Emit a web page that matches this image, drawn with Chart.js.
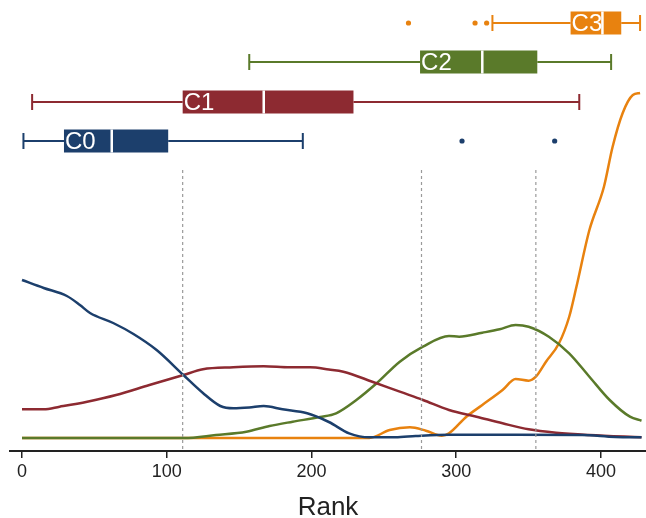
<!DOCTYPE html>
<html>
<head>
<meta charset="utf-8">
<script src="https://cdn.jsdelivr.net/npm/chart.js@4.4.1/dist/chart.umd.min.js"></script>
<style>
    html, body { margin: 0; padding: 0; background: #fff; }
</style>
</head>
<body>
<canvas id="rank-chart" width="646" height="518"></canvas>
<script>
// Classes and colours
const classNames = ["C0", "C1", "C2", "C3"];
const classColors = ["#1c3f6c", "#8d2a31", "#5a7a2a", "#e8820f"];

// Density curves (rank, density)
const c0Rank = [0, 15, 31, 40, 47, 63, 77, 93, 111.5, 125, 137, 146, 157, 167, 180, 197, 212, 226, 240, 258, 272, 295, 341, 387, 410, 428];
const c0Density = [158, 150, 142, 133, 125, 115, 104, 88, 63, 45, 32, 29.7, 30.5, 32, 28.7, 24.7, 16, 4.7, 0.7, 0.7, 2, 3.3, 3.3, 3, 1, 0.7];

const c1Rank = [0, 15, 26, 45, 65, 88, 111.5, 125, 146, 167, 185, 199, 212, 222, 242, 261, 277, 295, 314, 332, 350, 369, 392, 428];
const c1Density = [28.7, 28.7, 31.3, 36.3, 43, 53, 63, 68.7, 70.7, 71.7, 70.7, 70.7, 68.5, 66.3, 56.3, 46.3, 38, 28, 21.3, 14.7, 8.7, 5.3, 3, 0.7];

const c2Rank = [0, 112, 134, 155, 171, 187, 206, 217, 231, 245, 261, 277, 295, 302, 318, 330, 341, 350, 364, 378, 392, 406, 420, 428];
const c2Density = [0, 0, 3, 6.3, 12, 16.3, 21, 24.7, 38, 54.7, 76.3, 91.3, 102, 101.3, 105.3, 108.7, 113, 111.3, 101.3, 84.7, 61.3, 38, 21.3, 17.3];

const c3Rank = [0, 240, 254, 268, 279, 290, 295, 307, 318, 332, 341, 350, 355, 362, 371, 378, 383, 392, 402, 408, 415, 422, 427];
const c3Density = [0, 0, 8, 10.7, 7.3, 2.3, 4.7, 21.3, 33, 48, 59, 57.3, 61.3, 76.3, 94.7, 121, 151, 208, 251, 291, 325, 343, 345];

// Box plot statistics per class
const boxMin = [1, 7, 157, 325];
const boxQ1 = [29, 111, 275, 379];
const boxMedian = [62, 167, 318, 401];
const boxQ3 = [101, 229, 356, 414];
const boxMax = [194, 385, 407, 427];
const boxOutliers = [[304, 368], [], [], [267, 313, 321]];

// Dotted cut lines
const cutPoints = [111, 276, 355];

// Axis
const xTicks = [0, 100, 200, 300, 400];

const curveRanks = [c0Rank, c1Rank, c2Rank, c3Rank];
const curveDensities = [c0Density, c1Density, c2Density, c3Density];

const toPoints = (xs, ys) => xs.map((x, i) => ({ x: x, y: ys[i] }));

const cutDatasets = cutPoints.map(c => ({
    data: [{ x: c, y: 268 }, { x: c, y: -13 }],
    borderColor: "#9a9a9a",
    borderWidth: 1.2,
    borderDash: [3, 3],
    pointRadius: 0,
    tension: 0
}));

const curveDatasets = classNames.map((name, i) => ({
    label: name,
    data: toPoints(curveRanks[i], curveDensities[i]),
    borderColor: classColors[i],
    borderWidth: 2.5,
    pointRadius: 0,
    cubicInterpolationMode: "monotone",
    clip: false
}));

// Draws the box plots on top, using the chart's own scales
const boxPlotPlugin = {
    id: "boxPlots",
    afterDatasetsDraw(chart, args, opts) {
        const ctx = chart.ctx;
        const xs = chart.scales.x;
        const ys = chart.scales.y;
        const px = v => xs.getPixelForValue(v);
        const half = opts.boxHeight / 2;
        const cap = opts.capHeight / 2;

        classNames.forEach((name, i) => {
            const yc = ys.getPixelForValue(opts.rowLevels[i]);
            ctx.save();
            ctx.strokeStyle = classColors[i];
            ctx.fillStyle = classColors[i];
            ctx.lineWidth = 2;

            // whiskers and caps
            ctx.beginPath();
            ctx.moveTo(px(boxMin[i]), yc);
            ctx.lineTo(px(boxQ1[i]), yc);
            ctx.moveTo(px(boxQ3[i]), yc);
            ctx.lineTo(px(boxMax[i]), yc);
            ctx.moveTo(px(boxMin[i]), yc - cap);
            ctx.lineTo(px(boxMin[i]), yc + cap);
            ctx.moveTo(px(boxMax[i]), yc - cap);
            ctx.lineTo(px(boxMax[i]), yc + cap);
            ctx.stroke();

            // box
            ctx.fillRect(px(boxQ1[i]), yc - half, px(boxQ3[i]) - px(boxQ1[i]), half * 2);

            // outliers
            boxOutliers[i].forEach(o => {
                ctx.beginPath();
                ctx.arc(px(o), yc, 2.6, 0, Math.PI * 2);
                ctx.fill();
            });

            // median
            ctx.strokeStyle = "#ffffff";
            ctx.lineWidth = 2.5;
            ctx.beginPath();
            ctx.moveTo(px(boxMedian[i]), yc - half);
            ctx.lineTo(px(boxMedian[i]), yc + half);
            ctx.stroke();

            // label
            ctx.fillStyle = "#ffffff";
            ctx.font = '24px "Liberation Sans", Arial, sans-serif';
            ctx.textAlign = "left";
            ctx.textBaseline = "middle";
            ctx.fillText(name, px(boxQ1[i]) + 1, yc + 1.5);
            ctx.restore();
        });
    }
};

const ctx = document.getElementById("rank-chart").getContext("2d");

new Chart(ctx, {
    type: "line",
    data: { datasets: cutDatasets.concat(curveDatasets) },
    plugins: [boxPlotPlugin],
    options: {
        responsive: false,
        animation: false,
        devicePixelRatio: 1,
        layout: { padding: { left: 10, right: 0, top: 0, bottom: 0 } },
        plugins: {
            legend: { display: false },
            tooltip: { enabled: false },
            boxPlots: {
                rowLevels: [297, 336, 376, 415],
                boxHeight: 23,
                capHeight: 16
            }
        },
        scales: {
            x: {
                type: "linear",
                min: -8.29,
                max: 431.1,
                afterFit: scale => { scale.height = 67; },
                afterBuildTicks: scale => { scale.ticks = xTicks.map(v => ({ value: v })); },
                grid: {
                    display: true,
                    drawOnChartArea: false,
                    drawTicks: true,
                    tickLength: 7,
                    color: "#222",
                    lineWidth: 1.5
                },
                border: { display: true, color: "#222", width: 2 },
                ticks: {
                    padding: 3,
                    color: "#222",
                    font: { family: '"Liberation Sans", Arial, sans-serif', size: 18 }
                },
                title: {
                    display: true,
                    text: "Rank",
                    color: "#222",
                    font: { family: '"Liberation Sans", Arial, sans-serif', size: 26, lineHeight: 0.8 },
                    padding: { top: 0, bottom: 0 }
                }
            },
            y: { display: false, min: -13, max: 438 }
        }
    }
});
</script>
</body>
</html>
